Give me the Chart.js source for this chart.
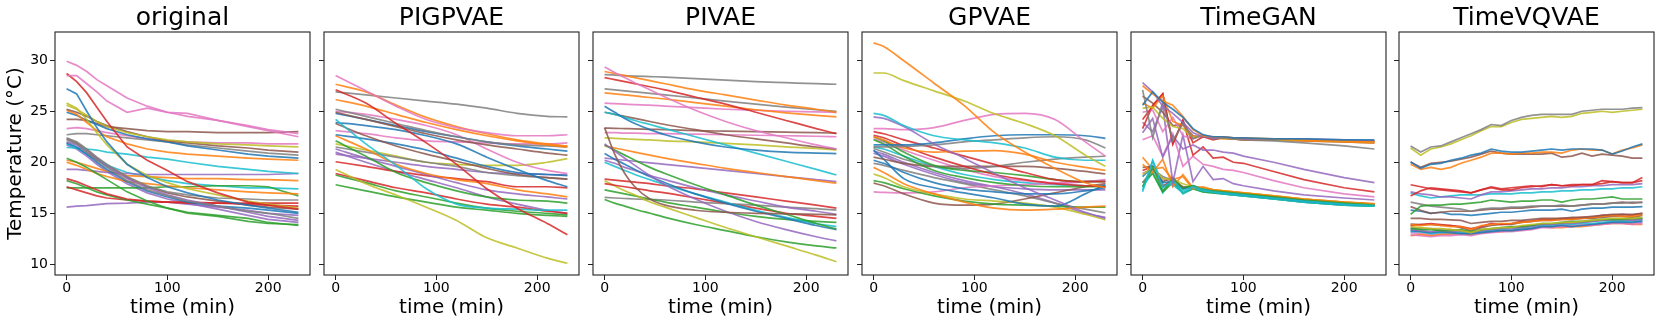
<!DOCTYPE html>
<html><head><meta charset="utf-8">
<script src="https://cdn.jsdelivr.net/npm/chart.js@4.4.1/dist/chart.umd.min.js"></script>
<style>
html,body{margin:0;padding:0;background:#fff;width:1661px;height:326px;overflow:hidden;position:relative}
canvas{position:absolute;top:0}
</style></head><body>
<script>
// ---------------- data ----------------
const PANEL_TITLES = ['original', 'PIGPVAE', 'PIVAE', 'GPVAE', 'TimeGAN', 'TimeVQVAE'];
const X_TICKS = [0, 100, 200];
const Y_TICKS = [10, 15, 20, 25, 30];

// original
const originalTimes = [0,10,20,30,40,60,80,100,120,150,180,200,230];
const originalColors = ['pink','pink','red','blue','olive','olive','brown','orange','blue','brown','pink','gray','gray','gray','purple','blue','cyan','green','orange','purple','orange','red','green','red','green','purple','cyan','brown','purple'];
const originalValues = [
 [29.9,29.5,28.9,28.1,27.5,26.3,25.5,24.9,24.5,24.1,23.5,23.1,22.5],
 [28.5,28.5,27.7,26.9,26.0,24.9,25.3,24.9,24.8,24.1,23.6,23.2,22.8],
 [28.7,27.9,26.8,25.4,24.0,21.5,20.2,19.2,18.1,17.0,16.1,15.8,15.4],
 [27.2,26.7,25.0,23.4,22.0,19.8,18.5,17.6,17.0,16.3,15.8,15.5,15.1],
 [25.8,25.3,24.2,22.9,21.7,19.8,18.7,18.0,17.4,16.8,16.2,15.9,15.5],
 [25.6,25.2,24.6,24.0,23.5,22.9,22.5,22.2,22.0,21.8,21.7,21.6,21.5],
 [25.2,24.9,24.5,24.0,23.6,23.0,22.5,22.1,21.9,21.6,21.4,21.2,21.0],
 [25.1,24.7,23.9,23.1,22.5,21.8,21.3,21.0,20.8,20.6,20.4,20.3,20.2],
 [24.9,24.6,24.1,23.7,23.3,22.7,22.3,22.0,21.6,21.2,20.8,20.6,20.4],
 [24.2,24.2,24.1,23.8,23.5,23.3,23.1,23.0,23.0,22.9,22.9,22.9,23.0],
 [23.3,23.4,23.3,23.1,22.9,22.6,22.3,22.1,22.0,21.9,21.9,21.8,21.8],
 [22.7,22.8,22.8,22.7,22.6,22.4,22.2,22.0,21.7,21.4,21.1,20.9,20.7],
 [22.4,22.0,21.3,20.5,19.8,18.6,17.7,17.1,16.8,16.5,16.4,16.3,16.3],
 [22.2,21.8,21.0,20.2,19.5,18.2,17.3,16.7,16.2,15.7,15.2,15.0,14.5],
 [22.0,21.7,21.0,20.3,19.6,18.4,17.5,16.8,16.3,15.7,15.1,14.7,14.3],
 [21.9,21.5,20.8,20.0,19.3,18.1,17.2,16.6,16.1,15.7,15.5,15.3,15.0],
 [21.45,21.4,21.3,21.2,21.0,20.8,20.5,20.3,20.0,19.6,19.3,19.1,18.9],
 [20.4,20.0,19.5,18.9,18.3,17.1,16.2,15.5,15.0,14.7,14.2,14.0,13.9],
 [20.0,19.7,19.3,18.9,18.6,18.1,17.9,17.7,17.5,17.3,17.1,17.0,16.9],
 [19.3,19.3,19.2,19.1,19.0,18.9,18.8,18.8,18.8,18.8,18.8,18.8,18.9],
 [20.2,20.0,19.7,19.4,19.1,18.7,18.6,18.5,18.4,18.4,18.3,18.3,18.2],
 [18.4,18.1,17.7,17.3,16.9,16.4,16.2,16.1,16.0,16.0,15.9,15.8,15.7],
 [18.2,17.9,17.5,17.1,16.8,16.3,15.9,15.5,15.1,14.8,14.5,14.1,13.8],
 [17.6,17.3,17.0,16.7,16.5,16.3,16.2,16.1,16.1,16.0,16.0,16.0,16.0],
 [17.5,17.5,17.5,17.5,17.5,17.5,17.5,17.6,17.6,17.7,17.7,17.6,16.7],
 [15.6,15.7,15.75,15.85,15.95,16.0,16.1,16.1,15.9,15.6,15.3,15.0,14.8],
 [21.8,21.4,20.8,20.2,19.7,19.0,18.6,18.2,17.9,17.7,17.5,17.5,17.4],
 [22.3,21.9,21.2,20.4,19.7,18.5,17.6,17.0,16.6,16.2,15.8,15.6,15.4],
 [21.7,21.3,20.6,19.8,19.1,17.9,17.0,16.4,16.0,15.4,14.8,14.4,14.1]
];

// PIGPVAE
const pigpvaeTimes = [0,30,60,90,120,150,180,210,230];
const pigpvaeColors = ['pink','orange','red','gray','orange','gray','brown','blue','pink','cyan','blue','brown','pink','blue','orange','green','gray','purple','purple','olive','red','olive','red','green','green','purple'];
const pigpvaeValues = [
 [28.5,27.0,25.5,24.2,23.4,22.9,22.6,22.6,22.7],
 [27.65,26.9,25.6,24.4,23.5,22.8,22.2,21.8,21.6],
 [27.1,25.8,23.8,21.9,19.8,17.4,15.5,14.0,12.9],
 [26.9,26.6,26.3,26.0,25.7,25.3,24.8,24.5,24.45],
 [26.15,25.5,24.7,23.9,23.2,22.6,22.1,21.7,21.5],
 [25.2,24.5,23.8,23.1,22.5,22.0,21.7,21.6,21.5],
 [24.9,24.2,23.5,22.8,22.2,21.7,21.3,20.9,20.7],
 [24.8,24.2,23.6,23.0,22.5,22.0,21.6,21.3,21.1],
 [25.0,24.7,24.2,23.6,22.7,21.3,20.0,19.2,18.9],
 [24.2,21.8,19.7,17.4,15.9,15.5,15.4,15.3,15.3],
 [23.9,23.6,23.2,22.6,21.8,20.5,19.3,18.2,17.6],
 [23.8,22.6,21.6,20.8,20.1,19.4,18.8,18.5,18.35],
 [23.1,22.8,22.4,22.1,22.0,21.9,21.8,21.8,21.9],
 [22.7,22.3,21.8,21.2,20.4,19.6,19.0,18.8,18.7],
 [22.6,21.3,19.8,18.9,18.3,17.9,17.3,16.9,16.6],
 [22.1,20.6,19.0,18.0,17.2,16.6,16.3,16.2,16.0],
 [21.5,21.0,20.5,20.0,19.6,19.0,18.7,18.5,18.35],
 [21.3,20.4,19.6,18.8,18.0,17.3,16.9,16.6,16.4],
 [20.8,20.4,20.0,19.6,19.3,19.0,18.9,18.8,18.75],
 [21.8,21.2,20.6,20.0,19.8,19.7,19.7,20.0,20.35],
 [20.05,19.6,19.1,18.7,18.4,18.1,17.6,17.6,17.5],
 [19.3,17.9,16.8,15.6,14.3,12.6,11.6,10.6,10.1],
 [18.9,18.2,17.5,17.0,16.4,15.9,15.6,15.2,15.0],
 [18.75,18.0,17.2,16.6,16.0,15.5,15.2,15.0,14.85],
 [17.8,17.2,16.6,16.1,15.6,15.3,15.0,14.8,14.7],
 [21.0,20.0,19.1,18.3,17.5,16.6,15.9,15.3,15.0]
];

// PIVAE
const pivaeTimes = [0,10,20,30,45,60,90,120,150,180,210,230];
const pivaeColors = ['pink','orange','gray','red','gray','orange','pink','blue','cyan','brown','brown','brown','pink','olive','purple','green','orange','blue','purple','cyan','purple','red','red','olive','green','gray','green'];
const pivaeValues = [
 [29.35,28.8,28.3,27.8,27.1,26.4,25.1,24.0,23.1,22.4,21.7,21.3],
 [28.9,28.7,28.5,28.3,28.0,27.7,27.1,26.6,26.1,25.6,25.2,24.9],
 [28.6,28.55,28.5,28.45,28.4,28.35,28.2,28.05,27.9,27.8,27.7,27.65],
 [28.3,28.1,27.9,27.7,27.4,27.1,26.4,25.7,24.9,24.1,23.3,22.8],
 [27.2,27.1,27.0,26.9,26.75,26.6,26.3,26.0,25.7,25.4,25.15,25.0],
 [26.8,26.7,26.6,26.5,26.35,26.2,25.85,25.5,25.15,24.85,24.6,24.45],
 [25.8,25.75,25.7,25.65,25.6,25.5,25.35,25.2,25.1,25.0,24.95,24.9],
 [25.5,24.9,24.3,23.8,23.2,22.7,22.0,21.5,21.2,21.0,20.9,20.85],
 [24.9,24.7,24.4,24.1,23.7,23.3,22.5,21.7,20.9,20.1,19.3,18.75],
 [24.9,24.7,24.5,24.3,24.0,23.7,23.2,22.7,22.3,21.9,21.5,21.3],
 [23.4,20.8,18.9,17.6,16.4,15.8,15.3,15.1,15.0,14.95,14.9,14.85],
 [23.35,23.33,23.3,23.27,23.23,23.2,23.1,23.05,23.0,22.95,22.9,22.85],
 [22.9,22.9,22.85,22.85,22.8,22.8,22.75,22.7,22.65,22.6,22.55,22.5],
 [22.4,22.35,22.3,22.25,22.2,22.1,22.0,21.85,21.7,21.5,21.35,21.2],
 [21.8,21.1,20.4,19.7,18.7,17.8,16.4,15.2,14.2,13.4,12.7,12.3],
 [21.7,21.2,20.7,20.2,19.5,18.9,17.8,16.8,15.8,14.9,14.0,13.45],
 [21.6,21.4,21.2,21.0,20.7,20.4,19.9,19.4,19.0,18.6,18.2,17.95],
 [20.85,20.3,19.8,19.3,18.6,18.0,16.9,16.0,15.2,14.5,13.8,13.4],
 [20.4,20.3,20.2,20.1,19.95,19.8,19.5,19.2,18.9,18.6,18.3,18.1],
 [20.0,19.6,19.2,18.8,18.3,17.8,16.9,16.1,15.3,14.6,14.0,13.7],
 [20.2,19.9,19.5,19.2,18.7,18.3,17.5,16.8,16.2,15.6,15.2,14.9],
 [18.35,18.25,18.15,18.05,17.9,17.7,17.4,17.0,16.6,16.2,15.8,15.5],
 [17.9,17.75,17.6,17.45,17.2,17.0,16.5,16.0,15.5,15.0,14.7,14.5],
 [18.2,17.7,17.2,16.8,16.1,15.6,14.6,13.6,12.7,11.8,10.9,10.25],
 [17.3,17.1,16.9,16.7,16.4,16.1,15.6,15.1,14.7,14.4,14.2,14.1],
 [16.55,16.5,16.45,16.4,16.35,16.3,16.1,15.95,15.8,15.6,15.45,15.3],
 [16.35,16.0,15.7,15.4,15.0,14.6,13.9,13.3,12.7,12.2,11.8,11.6]
];

// GPVAE
const gpvaeTimes = [0,10,30,60,90,120,150,180,210,230];
const gpvaeColors = ['orange','olive','cyan','purple','pink','blue','gray','orange','red','red','green','green','gray','brown','blue','blue','orange','olive','green','brown','pink','gray','purple','purple','pink','cyan'];
const gpvaeValues = [
 [31.7,31.35,29.95,27.75,25.55,22.9,21.0,19.4,18.0,17.5],
 [28.75,28.75,28.0,27.0,26.0,24.75,23.8,22.6,20.7,19.6],
 [24.8,24.6,23.6,22.6,22.2,21.9,21.4,20.5,20.2,20.2],
 [24.45,24.3,23.5,21.8,20.4,18.9,17.5,16.3,15.1,14.5],
 [23.3,23.3,23.2,23.4,24.1,24.7,24.8,24.2,22.0,20.6],
 [21.7,21.7,21.7,21.9,22.3,22.6,22.7,22.7,22.6,22.35],
 [21.5,21.5,21.55,21.7,22.0,22.2,22.4,22.5,22.2,21.4],
 [22.5,22.2,21.4,21.0,21.1,21.15,20.8,20.0,19.5,19.2],
 [23.0,22.8,22.2,21.4,20.6,19.8,19.0,18.3,18.1,18.1],
 [22.65,22.4,21.6,20.5,19.6,18.8,18.3,17.9,17.7,17.6],
 [22.5,22.1,21.0,19.7,19.2,19.0,18.7,18.3,18.1,18.1],
 [22.2,21.8,20.6,19.2,18.5,18.0,17.7,17.6,17.6,17.6],
 [21.35,21.0,20.3,19.6,19.4,19.6,20.0,20.3,20.5,20.6],
 [20.5,20.3,19.9,19.6,19.6,19.6,19.6,19.4,19.1,18.85],
 [21.2,20.3,18.4,17.5,17.0,16.5,15.9,15.7,16.9,17.8],
 [20.2,19.9,19.0,18.0,17.4,17.1,16.9,16.9,17.2,17.5],
 [19.5,19.0,17.9,16.9,16.1,15.5,15.3,15.4,15.6,15.7],
 [18.85,18.5,17.6,16.9,16.4,16.2,16.0,15.6,14.9,14.35],
 [18.2,18.0,17.4,16.7,16.2,15.9,15.8,15.7,15.6,15.6],
 [17.95,17.7,16.9,16.0,15.8,15.9,16.4,17.0,17.6,17.9],
 [17.1,17.05,17.0,17.1,17.5,17.7,17.8,17.9,18.1,18.3],
 [19.9,19.7,19.2,18.5,17.9,17.3,16.7,16.0,15.4,15.05],
 [20.9,20.6,19.8,18.8,18.0,17.6,17.4,17.3,17.3,17.3],
 [21.1,20.8,20.0,19.0,18.2,17.6,16.9,16.0,15.0,14.6],
 [22.3,22.0,21.2,20.2,19.3,18.6,18.2,18.0,18.1,18.2],
 [21.5,21.3,20.6,19.6,18.8,18.3,18.0,17.8,17.7,17.7]
];

// TimeGAN
const timeganTimes = [0,10,20,30,40,50,60,70,80,90,100,130,160,200,230];
const timeganColors = ['blue','orange','purple','gray','olive','orange','red','pink','brown','purple','red','pink','purple','cyan','green','orange','olive','blue','red','brown','cyan','gray','pink','orange','green','cyan'];
const timeganValues = [
 [25.6,26.9,25.9,25.2,24.4,23.3,22.7,22.5,22.5,22.4,22.4,22.3,22.3,22.2,22.2],
 [27.5,26.7,26.0,25.6,24.5,23.2,22.6,22.5,22.5,22.4,22.4,22.3,22.2,22.1,22.0],
 [27.8,26.9,25.5,24.8,23.9,22.9,22.5,22.4,22.5,22.4,22.3,22.3,22.3,22.2,22.1],
 [27.1,22.4,25.9,22.1,23.8,22.3,22.7,22.3,22.4,22.3,22.2,22.1,21.9,21.6,21.3],
 [25.3,25.4,24.3,23.5,23.3,22.4,22.6,22.4,22.4,22.3,22.3,22.2,22.2,22.1,22.0],
 [25.8,25.3,26.5,24.0,23.6,22.5,22.6,22.4,22.3,22.3,22.2,22.2,22.1,22.0,21.9],
 [24.2,25.5,26.7,21.8,24.1,21.9,22.5,22.2,22.4,22.3,22.3,22.2,22.2,22.1,22.1],
 [24.9,25.1,23.0,24.4,22.6,22.3,22.6,22.3,22.4,22.3,22.3,22.2,22.2,22.1,22.0],
 [26.5,25.8,24.9,23.6,23.7,22.6,22.5,22.4,22.4,22.3,22.2,22.2,22.1,22.0,21.9],
 [22.9,24.3,20.5,22.6,21.3,21.7,21.2,21.2,21.0,20.9,20.6,20.0,19.3,18.5,18.0],
 [23.3,25.6,26.7,21.8,24.1,20.7,21.5,20.4,20.5,20.0,19.9,19.1,18.3,17.5,17.1],
 [22.2,22.6,20.6,22.8,19.6,20.6,19.8,19.6,19.3,19.2,19.0,18.2,17.5,16.9,16.6],
 [23.9,23.0,25.5,18.0,22.7,18.1,19.6,18.3,18.4,17.9,17.7,17.2,16.8,16.5,16.3],
 [17.1,20.1,17.5,18.2,17.2,17.6,17.3,17.1,17.0,16.9,16.8,16.5,16.2,15.9,15.75],
 [17.6,19.5,17.2,18.4,17.5,17.7,17.3,17.2,17.1,17.0,16.9,16.6,16.3,16.0,15.8],
 [19.8,19.0,20.3,17.6,18.8,17.5,17.6,17.3,17.2,17.1,17.0,16.7,16.4,16.1,15.9],
 [18.8,19.5,18.4,18.3,17.9,17.6,17.5,17.3,17.2,17.1,17.0,16.7,16.4,16.1,15.9],
 [18.6,19.6,18.0,18.1,17.4,17.7,17.4,17.2,17.0,16.9,16.8,16.5,16.2,15.9,15.8],
 [19.2,19.6,17.6,18.3,17.5,17.6,17.4,17.2,17.1,17.0,16.9,16.6,16.3,16.0,15.9],
 [19.5,19.6,18.1,18.5,17.4,17.6,17.4,17.2,17.1,17.0,16.9,16.6,16.3,16.0,15.9],
 [17.3,20.2,17.8,17.8,17.0,17.5,17.2,17.1,16.9,16.8,16.7,16.4,16.1,15.8,15.7],
 [18.0,19.3,18.6,18.2,17.6,17.5,17.4,17.3,17.1,17.0,16.9,16.6,16.3,16.0,15.8],
 [18.9,19.4,18.4,18.0,17.6,17.6,17.3,17.2,17.1,17.0,16.9,16.6,16.3,16.0,15.8],
 [20.5,19.3,19.5,18.3,18.6,17.4,17.5,17.3,17.2,17.1,17.0,16.7,16.4,16.1,15.95],
 [18.0,18.9,17.1,18.0,17.0,17.4,17.1,17.0,16.9,16.8,16.7,16.4,16.1,15.8,15.7],
 [17.6,19.0,17.0,18.3,16.9,17.4,17.1,17.0,16.9,16.8,16.7,16.4,16.1,15.8,15.7]
];

// TimeVQVAE
const timevqvaeTimes = [0,10,20,30,40,50,60,70,80,90,100,110,120,130,140,150,160,170,180,190,200,210,220,230];
const timevqvaeColors = ['gray','olive','blue','orange','brown','red','red','purple','cyan','green','gray','brown','blue','brown','orange','red','olive','green','purple','blue','cyan','pink','orange','gray','brown','pink'];
const timevqvaeValues = [
 [21.6,21.0,21.5,21.6,22.0,22.4,22.8,23.2,23.7,23.6,24.1,24.4,24.6,24.7,24.7,24.7,24.7,25.0,25.1,25.2,25.2,25.2,25.3,25.35],
 [21.4,20.7,21.3,21.5,21.8,22.2,22.6,23.1,23.5,23.5,23.9,24.2,24.3,24.4,24.5,24.4,24.5,24.8,24.9,25.0,24.9,25.0,25.1,25.2],
 [20.05,19.4,19.8,19.9,20.2,20.4,20.7,20.9,21.3,21.1,21.0,21.0,21.1,21.2,21.3,21.2,21.3,21.3,21.3,21.2,20.8,21.1,21.5,21.8],
 [19.8,19.3,19.5,19.3,19.5,19.9,20.2,20.5,20.9,20.9,20.8,20.9,20.9,21.0,21.0,20.9,21.2,21.3,21.2,21.2,20.8,21.2,21.4,21.7],
 [20.0,19.5,19.9,20.0,20.1,20.3,20.5,20.8,21.1,20.9,20.8,20.8,20.8,20.8,20.9,20.5,20.6,20.9,20.6,20.8,20.7,20.6,20.4,20.4],
 [17.8,17.6,17.4,17.3,17.2,17.1,17.0,17.3,17.5,17.3,17.3,17.5,17.6,17.7,17.8,17.7,17.7,17.8,17.8,18.2,18.1,18.0,18.0,18.5],
 [16.7,17.2,17.5,17.4,17.3,17.2,17.0,17.3,17.6,17.4,17.5,17.6,17.7,17.6,17.8,17.7,17.8,17.8,17.8,17.9,18.1,18.0,18.0,18.2],
 [17.1,16.9,16.8,16.6,16.6,16.5,16.4,16.8,17.1,17.1,17.2,17.3,17.4,17.4,17.5,17.5,17.6,17.6,17.7,17.7,17.8,17.8,17.8,17.9],
 [16.96,16.7,16.5,16.6,16.7,16.8,16.8,16.8,16.9,16.9,16.9,17.0,17.0,17.1,17.1,17.2,17.2,17.3,17.3,17.4,17.4,17.5,17.5,17.6],
 [14.9,15.7,15.8,15.8,15.9,15.9,16.0,16.1,16.3,16.2,16.1,16.2,16.2,16.3,16.3,16.1,16.3,16.4,16.4,16.5,16.6,16.4,16.4,16.4],
 [16.1,15.9,15.7,15.6,15.5,15.4,15.2,15.4,15.5,15.5,15.6,15.6,15.7,15.7,15.7,15.8,15.7,15.8,15.9,15.9,16.0,16.0,16.1,16.05],
 [15.65,15.3,15.0,15.1,15.2,15.2,15.2,15.3,15.4,15.4,15.5,15.5,15.6,15.7,15.7,15.7,15.7,15.8,15.9,15.9,16.0,16.1,16.0,16.1],
 [15.3,15.2,15.0,15.1,14.9,14.9,14.8,14.9,15.0,15.1,15.1,15.2,15.3,15.3,15.3,15.4,15.2,15.4,15.5,15.5,15.6,15.6,15.6,15.65],
 [14.5,14.5,14.4,14.4,14.35,14.3,14.0,14.1,14.2,14.2,14.3,14.3,14.4,14.5,14.5,14.5,14.6,14.6,14.7,14.8,14.9,14.9,14.9,15.0],
 [13.9,13.8,13.9,13.8,13.7,13.7,13.4,13.8,13.9,14.0,14.0,14.1,14.2,14.3,14.3,14.4,14.4,14.5,14.6,14.7,14.8,14.7,14.7,14.9],
 [13.8,13.9,14.0,13.9,13.8,13.7,13.5,13.7,14.0,13.9,14.0,14.2,14.2,14.4,14.4,14.5,14.5,14.6,14.6,14.8,14.8,14.9,14.8,15.0],
 [13.7,13.6,13.5,13.5,13.4,13.3,13.1,13.4,13.5,13.6,13.6,13.8,13.9,14.0,14.0,14.1,14.1,14.2,14.3,14.4,14.5,14.5,14.5,14.6],
 [13.5,13.4,13.4,13.3,13.3,13.4,13.2,13.4,13.5,13.6,13.7,13.7,13.8,14.0,14.0,14.1,14.2,14.2,14.3,14.4,14.4,14.4,14.5,14.5],
 [13.4,13.3,13.2,13.3,13.2,13.3,13.1,13.3,13.4,13.5,13.5,13.6,13.7,13.9,13.9,14.0,14.0,14.1,14.2,14.3,14.4,14.4,14.3,14.4],
 [13.3,13.2,13.1,13.2,13.1,13.0,13.0,13.1,13.2,13.3,13.3,13.4,13.5,13.7,13.7,13.8,13.7,13.8,13.9,14.0,14.1,14.1,14.1,14.2],
 [13.2,13.2,13.0,13.1,13.1,13.1,13.0,13.2,13.3,13.4,13.4,13.5,13.6,13.8,13.8,13.9,13.9,14.0,14.0,14.1,14.2,14.2,14.2,14.3],
 [12.9,12.8,12.7,12.8,12.8,12.9,12.8,13.0,13.1,13.2,13.2,13.3,13.4,13.6,13.6,13.7,13.7,13.8,13.8,13.9,14.0,14.0,13.9,14.0],
 [12.8,12.9,12.8,12.9,13.0,13.0,12.9,13.1,13.2,13.2,13.3,13.4,13.5,13.7,13.6,13.6,13.7,13.7,13.8,13.9,14.0,14.0,13.9,13.9],
 [13.6,13.5,13.5,13.4,13.4,13.2,13.1,13.3,13.4,13.5,13.6,13.7,13.8,13.9,13.9,14.0,14.0,14.1,14.2,14.3,14.3,14.3,14.4,14.5],
 [13.95,13.9,13.9,13.8,13.8,13.6,13.3,13.6,13.8,13.9,13.9,14.1,14.2,14.3,14.3,14.4,14.4,14.5,14.5,14.6,14.7,14.7,14.6,14.8],
 [13.1,13.0,12.9,13.0,12.9,13.0,12.9,13.1,13.2,13.3,13.3,13.4,13.5,13.7,13.7,13.8,13.8,13.9,13.9,14.0,14.1,14.1,14.0,14.1]
];

// ---------------- rendering ----------------
const TAB = {blue:'31,119,180', orange:'255,127,14', green:'44,160,44', red:'214,39,40', purple:'148,103,189', brown:'140,86,75', pink:'227,119,194', gray:'127,127,127', olive:'188,189,34', cyan:'23,190,207'};
const FONT = "'DejaVu Sans', sans-serif";
const BOX_LEFT = [55, 324, 593, 862, 1131, 1399];
const BOX_W = 255;
const X_MIN = -11.5, X_MAX = 241.5, Y_MIN = 8.95, Y_MAX = 32.77;

const PANELS = [
  {times: originalTimes, values: originalValues, colors: originalColors, smooth: false},
  {times: pigpvaeTimes, values: pigpvaeValues, colors: pigpvaeColors, smooth: true},
  {times: pivaeTimes, values: pivaeValues, colors: pivaeColors, smooth: true},
  {times: gpvaeTimes, values: gpvaeValues, colors: gpvaeColors, smooth: true},
  {times: timeganTimes, values: timeganValues, colors: timeganColors, smooth: false},
  {times: timevqvaeTimes, values: timevqvaeValues, colors: timevqvaeColors, smooth: false}
];

const frame = {
  id: 'frame',
  afterDraw(chart) {
    const {ctx, chartArea: a} = chart;
    ctx.save();
    ctx.strokeStyle = '#222';
    ctx.lineWidth = 1.1;
    ctx.strokeRect(a.left, a.top, a.right - a.left, a.bottom - a.top);
    ctx.restore();
  }
};

PANELS.forEach((p, i) => {
  const yW = i === 0 ? 55 : 12;
  const W = yW + BOX_W + 3;
  const cv = document.createElement('canvas');
  cv.width = W; cv.height = 326;
  cv.style.left = (BOX_LEFT[i] - yW) + 'px';
  cv.style.width = W + 'px'; cv.style.height = '326px';
  document.body.appendChild(cv);
  new Chart(cv, {
    type: 'line',
    data: {
      datasets: p.values.map((vals, k) => ({
        data: vals.map((v, j) => ({x: p.times[j], y: v})),
        borderColor: 'rgba(' + TAB[p.colors[k]] + ',0.85)',
        borderWidth: 1.7,
        pointRadius: 0,
        fill: false,
        tension: 0,
        cubicInterpolationMode: p.smooth ? 'monotone' : 'default'
      }))
    },
    options: {
      responsive: false, animation: false, devicePixelRatio: 1,
      events: [],
      layout: {padding: {left: 0, right: 3, top: 0, bottom: 0}, autoPadding: false},
      plugins: {
        legend: {display: false}, tooltip: {enabled: false},
        title: {display: true, text: PANEL_TITLES[i], fullSize: false, color: '#000',
                font: {family: FONT, size: 25, weight: 'normal', lineHeight: 1},
                padding: {top: 5.5, bottom: 1.5}}
      },
      scales: {
        x: {
          type: 'linear', min: X_MIN, max: X_MAX,
          afterBuildTicks: s => { s.ticks = X_TICKS.map(v => ({value: v})); },
          afterFit: s => { s.height = 51; },
          grid: {drawOnChartArea: false, drawTicks: true, tickLength: 5, color: '#222', lineWidth: 1},
          border: {display: false},
          ticks: {font: {family: FONT, size: 14}, color: '#000', padding: 0, maxRotation: 0, autoSkip: false},
          title: {display: true, text: 'time (min)', color: '#000',
                  font: {family: FONT, size: 20, lineHeight: 1.2}, padding: {top: 0, bottom: 6.5}}
        },
        y: {
          type: 'linear', min: Y_MIN, max: Y_MAX,
          afterBuildTicks: s => { s.ticks = Y_TICKS.map(v => ({value: v})); },
          afterFit: s => { s.width = yW; },
          grid: {drawOnChartArea: false, drawTicks: true, tickLength: 5, color: '#222', lineWidth: 1},
          border: {display: false},
          ticks: {display: i === 0, font: {family: FONT, size: 14}, color: '#000', padding: 2, autoSkip: false},
          title: {display: i === 0, text: 'Temperature (°C)', color: '#000',
                  font: {family: FONT, size: 20, lineHeight: 1.2}, padding: {top: 4, bottom: 0}}
        }
      }
    },
    plugins: [frame]
  });
});
</script>
</body></html>
